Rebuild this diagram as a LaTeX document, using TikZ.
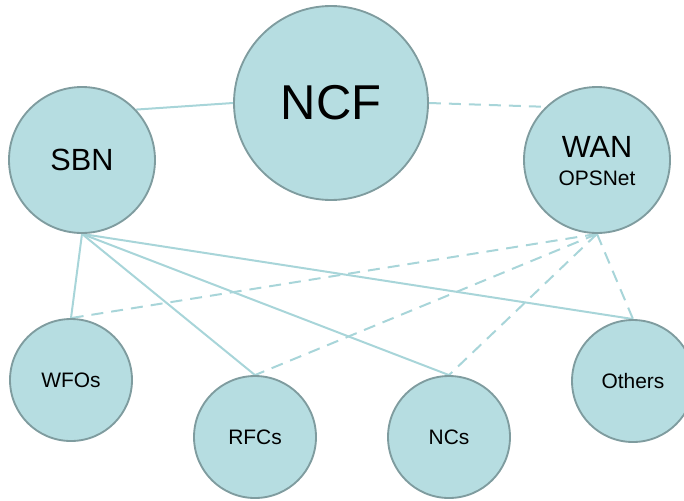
\documentclass[tikz,border=0pt]{standalone}
\usepackage{fontspec}
\setmainfont{Liberation Sans}
\usetikzlibrary{backgrounds}
\definecolor{nodefill}{HTML}{B6DDE1}
\definecolor{nodeborder}{HTML}{7F9C9F}
\definecolor{linkcol}{HTML}{A8D5D9}
\begin{document}
\begin{tikzpicture}[x=0.75pt,y=-0.75pt,
  hub/.style={circle,draw=nodeborder,fill=nodefill,line width=1.4pt,inner sep=0pt,text=black,align=center},
  bigc/.style={hub,minimum size=145.5pt,font=\fontsize{36.7}{40}\selectfont},
  midc/.style={hub,minimum size=109.5pt,font=\fontsize{23}{26}\selectfont},
  smallc/.style={hub,minimum size=91.5pt,font=\fontsize{15.7}{18}\selectfont},
  solidlink/.style={draw=linkcol,line width=1.5pt},
  dashlink/.style={draw=linkcol,line width=1.5pt,dash pattern=on 9pt off 6pt}]
\useasboundingbox (0,0) rectangle (684,500);
\node[bigc] (ncf) at (331,103) {NCF};
\node[midc] (sbn) at (82,160) {SBN};
\node[midc] (wan) at (597,160) {};
\node[font=\fontsize{23}{26}\selectfont] (want) at (597,147) {WAN};
\node[font=\fontsize{15.7}{18}\selectfont] (wans) at (597,178) {OPSNet};
\node[smallc] (wfo) at (71,380) {WFOs};
\node[smallc] (rfc) at (255,437) {RFCs};
\node[smallc] (nc) at (449,437) {NCs};
\node[smallc] (oth) at (633,381) {Others};
\begin{scope}[on background layer]
\draw[solidlink] (sbn.43) -- (ncf.west);
\draw[dashlink] (ncf.east) -- (wan.134);
\draw[solidlink] (sbn.south) -- (wfo.north);
\draw[solidlink] (sbn.south) -- (rfc.north);
\draw[solidlink] (sbn.south) -- (nc.north);
\draw[solidlink] (sbn.south) -- (oth.north);
\draw[dashlink] (wan.south) -- (wfo.north);
\draw[dashlink] (wan.south) -- (rfc.north);
\draw[dashlink] (wan.south) -- (nc.north);
\draw[dashlink] (wan.south) -- (oth.north);
\end{scope}
\end{tikzpicture}
\end{document}
